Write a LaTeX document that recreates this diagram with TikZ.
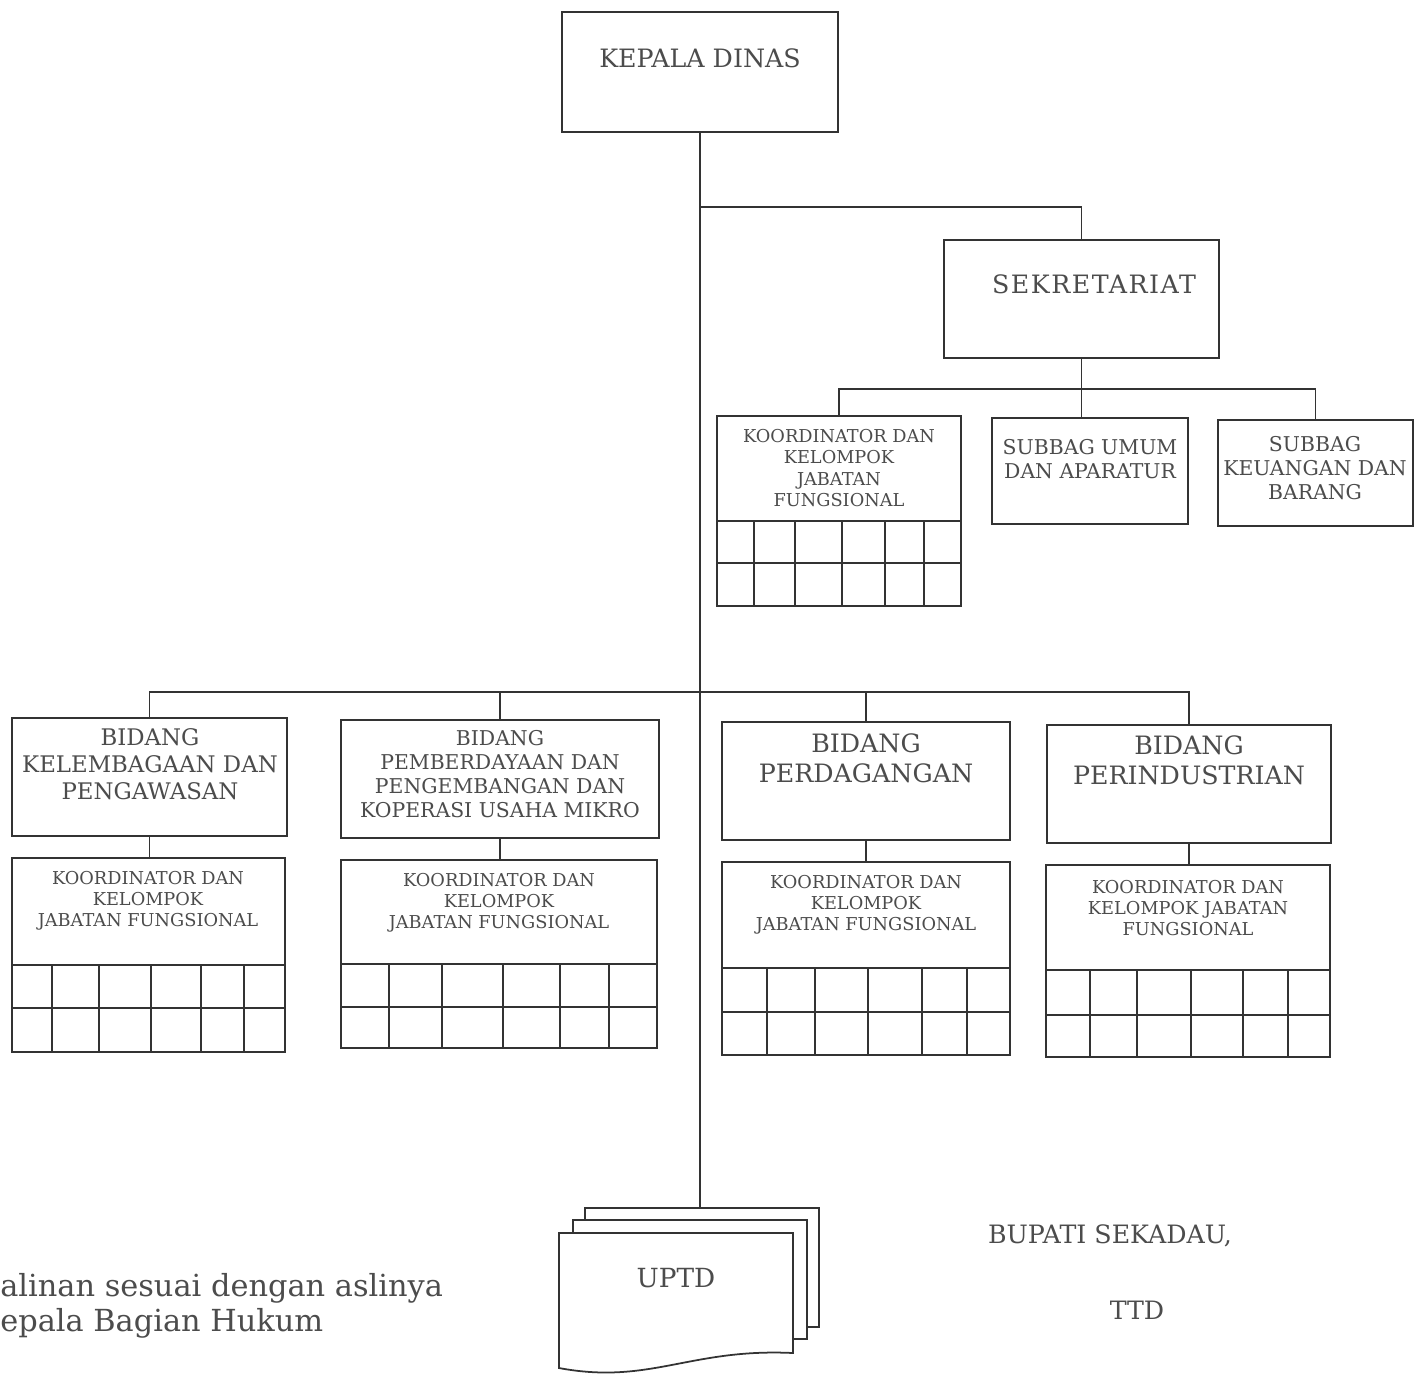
\documentclass[tikz,border=0pt]{standalone}
\usepackage{fontspec}
\setmainfont{DejaVu Serif}
\usepackage{tikz}
\usetikzlibrary{positioning, fit}
\definecolor{inkline}{gray}{0.2}
\definecolor{inktext}{gray}{0.3}
\tikzstyle{box} = [rectangle, draw=inkline, line width=1pt, inner sep=0pt, fill=white]
\tikzstyle{line} = [draw=inkline, line width=1pt]
\tikzstyle{bigtext} = [text=inktext, align=center, inner sep=0pt, font=\fontsize{14.4}{17}\selectfont]
\tikzstyle{midtext} = [text=inktext, align=center, inner sep=0pt, font=\fontsize{13}{15.4}\selectfont]
\tikzstyle{smalltext} = [text=inktext, align=center, inner sep=0pt, font=\fontsize{11.6}{13.7}\selectfont]
\tikzstyle{tinytext} = [text=inktext, align=center, inner sep=0pt, font=\fontsize{10.1}{12}\selectfont]

\begin{document}
\begin{tikzpicture}[x=0.02cm, y=-0.02cm]
\useasboundingbox (0,0) rectangle (1419,1374);

% Kepala Dinas
\node (kepala) [box, fit={(562,12) (838,132)}] {};
\node (kepalatxt) [bigtext] at (700,58) {KEPALA DINAS};

% Sekretariat
\node (sekre) [box, fit={(944,240) (1219,358)}] {};
\node (sekretxt) [bigtext, font=\fontsize{14.4}{17}\selectfont\addfontfeature{LetterSpace=6}] at (1094,284) {SEKRETARIAT};

% Sekretariat units
\node (kjf0) [box, fit={(717,416) (961,606)}] {};
\node (kjf0txt) [tinytext] at (839,468) {KOORDINATOR DAN\\KELOMPOK\\JABATAN\\FUNGSIONAL};
\draw [line] (717,521) -- (961,521) (717,563) -- (961,563);
\foreach \x in {754,795,842,885,924} \draw [line] (\x,521) -- (\x,606);

\node (umum) [box, fit={(992,418) (1188,524)}] {};
\node (umumtxt) [smalltext] at (1090,459) {SUBBAG UMUM\\DAN APARATUR};
\node (keu) [box, fit={(1218,420) (1413,526)}] {};
\node (keutxt) [smalltext] at (1315,468) {SUBBAG\\KEUANGAN DAN\\BARANG};

% Bidang
\node (bid1) [box, fit={(12,718) (287,836)}] {};
\node (bid1txt) [midtext] at (150,764) {BIDANG\\KELEMBAGAAN DAN\\PENGAWASAN};
\node (bid2) [box, fit={(341,720) (659,838)}] {};
\node (bid2txt) [smalltext] at (500,774) {BIDANG\\PEMBERDAYAAN DAN\\PENGEMBANGAN DAN\\KOPERASI USAHA MIKRO};
\node (bid3) [box, fit={(722,722) (1010,840)}] {};
\node (bid3txt) [bigtext] at (866,758) {BIDANG\\PERDAGANGAN};
\node (bid4) [box, fit={(1047,725) (1331,843)}] {};
\node (bid4txt) [bigtext] at (1189,760) {BIDANG\\PERINDUSTRIAN};

% Koordinator dan kelompok jabatan fungsional
\node (kjf1) [box, fit={(12,858) (285,1052)}] {};
\node (kjf1txt) [tinytext] at (148,901) {KOORDINATOR DAN\\KELOMPOK\\JABATAN FUNGSIONAL};
\draw [line] (12,965) -- (285,965) (12,1008) -- (285,1008);
\foreach \x in {52,99,151,201,244} \draw [line] (\x,965) -- (\x,1052);

\node (kjf2) [box, fit={(341,860) (657,1048)}] {};
\node (kjf2txt) [tinytext] at (499,903) {KOORDINATOR DAN\\KELOMPOK\\JABATAN FUNGSIONAL};
\draw [line] (341,964) -- (657,964) (341,1007) -- (657,1007);
\foreach \x in {389,442,503,560,609} \draw [line] (\x,964) -- (\x,1048);

\node (kjf3) [box, fit={(722,862) (1010,1055)}] {};
\node (kjf3txt) [tinytext] at (866,905) {KOORDINATOR DAN\\KELOMPOK\\JABATAN FUNGSIONAL};
\draw [line] (722,968) -- (1010,968) (722,1012) -- (1010,1012);
\foreach \x in {767,815,868,922,967} \draw [line] (\x,968) -- (\x,1055);

\node (kjf4) [box, fit={(1046,865) (1330,1057)}] {};
\node (kjf4txt) [tinytext] at (1188,908) {KOORDINATOR DAN\\KELOMPOK JABATAN\\FUNGSIONAL};
\draw [line] (1046,970) -- (1330,970) (1046,1015) -- (1330,1015);
\foreach \x in {1090,1137,1191,1243,1288} \draw [line] (\x,970) -- (\x,1057);

% UPTD
\node (uptd3) [box, fit={(585,1208) (819,1327)}] {};
\node (uptd2) [box, fit={(573,1220) (807,1339)}] {};
\draw [box] (559,1233) -- (793,1233) -- (793,1353) .. controls (690,1348) and (650,1385) .. (559,1368) -- cycle;
\node (uptdtxt) [bigtext, font=\fontsize{15}{17}\selectfont] at (676,1278) {UPTD};

% Connectors
\coordinate (sekrejoin) at (700,207);
\coordinate (subjoin) at (1081,389);
\coordinate (bidjoin) at (700,692);
\draw [line] (kepala.south) -- (kepala.south |- uptd3.north);
\draw [line] (sekrejoin) -| (sekre.north);
\draw [line] (sekre.south) -- (sekre.south |- umum.north);
\draw [line] (kjf0.north) |- (subjoin) -| (keu.north);
\draw [line] (bid1.north) |- (bidjoin) -| (bid4.north);
\draw [line] (bid2.north) -- (bid2.north |- bidjoin);
\draw [line] (bid3.north) -- (bid3.north |- bidjoin);
\foreach \i in {1,...,4} \draw [line] (bid\i.south) -- (bid\i.south |- kjf\i.north);

% Signature
\node (bupati) [bigtext] at (1110,1236) {BUPATI SEKADAU,};
\node (ttd) [bigtext] at (1137,1310) {TTD};
\node (salinan) [bigtext, align=left, anchor=west, font=\fontsize{17.3}{19.8}\selectfont] at (0,1306) {alinan sesuai dengan aslinya\\epala Bagian Hukum};

\end{tikzpicture}
\end{document}
